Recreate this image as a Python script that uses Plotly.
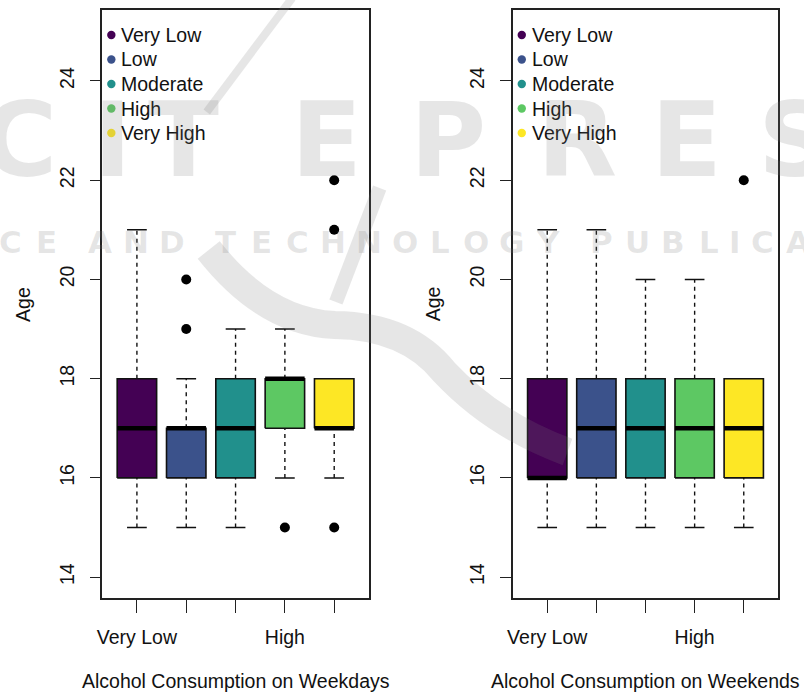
import plotly.graph_objects as go

# ---- data -------------------------------------------------------------
categories = ["Very Low", "Low", "Moderate", "High", "Very High"]
shown_tick_labels = ["Very Low", "", "", "High", ""]
colors = ["#440154", "#3B528B", "#21908C", "#5DC863", "#FDE725"]
y_ticks = [14, 16, 18, 20, 22, 24]

# Age summary per weekday-consumption level
wd_lower = [15, 15, 15, 16, 16]
wd_q1 = [16, 16, 16, 17, 17]
wd_median = [17, 17, 17, 18, 17]
wd_q3 = [18, 17, 18, 18, 18]
wd_upper = [21, 18, 19, 19, 18]
wd_outliers = [[], [19, 20], [], [15], [15, 21, 22]]

# Age summary per weekend-consumption level
we_lower = [15, 15, 15, 15, 15]
we_q1 = [16, 16, 16, 16, 16]
we_median = [16, 17, 17, 17, 17]
we_q3 = [18, 18, 18, 18, 18]
we_upper = [21, 21, 20, 20, 18]
we_outliers = [[], [], [], [], [22]]

panels = [
    dict(title="Alcohol Consumption on Weekdays", lower=wd_lower, q1=wd_q1,
         median=wd_median, q3=wd_q3, upper=wd_upper, outliers=wd_outliers),
    dict(title="Alcohol Consumption on Weekends", lower=we_lower, q1=we_q1,
         median=we_median, q3=we_q3, upper=we_upper, outliers=we_outliers),
]

# ---- geometry / style ---------------------------------------------------
W, H = 804, 695
FONT = "Liberation Sans, Arial, Helvetica, sans-serif"
FS = 19.5
INK = "#111111"
BOX_HALF = 0.4
CAP_HALF = 0.2
X_RANGE = [0.3, 5.7]
Y_RANGE = [13.58, 25.43]
plot_px = [(98, 366), (511, 778)]     # left/right edges of each plot area
top_px, bottom_px = 10, 598

fig = go.Figure()
positions = list(range(1, len(categories) + 1))

for p, panel in enumerate(panels):
    xa = "x" if p == 0 else "x2"
    ya = "y" if p == 0 else "y2"

    # dashed whiskers
    wx, wy = [], []
    for c, lo, q1, q3, hi in zip(positions, panel["lower"], panel["q1"],
                                 panel["q3"], panel["upper"]):
        wx += [c, c, None, c, c, None]
        wy += [lo, q1, None, q3, hi, None]
    fig.add_trace(go.Scatter(x=wx, y=wy, mode="lines", xaxis=xa, yaxis=ya,
                             line=dict(color=INK, width=1.4, dash="4px,4px"),
                             hoverinfo="skip", showlegend=False))

    # whisker staples
    sx, sy = [], []
    for c, lo, hi in zip(positions, panel["lower"], panel["upper"]):
        sx += [c - CAP_HALF, c + CAP_HALF, None, c - CAP_HALF, c + CAP_HALF, None]
        sy += [lo, lo, None, hi, hi, None]
    fig.add_trace(go.Scatter(x=sx, y=sy, mode="lines", xaxis=xa, yaxis=ya,
                             line=dict(color=INK, width=1.5),
                             hoverinfo="skip", showlegend=False))

    # boxes
    for c, q1, q3, col, name in zip(positions, panel["q1"], panel["q3"],
                                    colors, categories):
        fig.add_trace(go.Scatter(
            x=[c - BOX_HALF, c + BOX_HALF, c + BOX_HALF, c - BOX_HALF, c - BOX_HALF],
            y=[q1, q1, q3, q3, q1], mode="lines", fill="toself",
            fillcolor=col, line=dict(color=INK, width=1.6),
            xaxis=xa, yaxis=ya, name=name, showlegend=False))

    # medians
    mx, my = [], []
    for c, m in zip(positions, panel["median"]):
        mx += [c - BOX_HALF, c + BOX_HALF, None]
        my += [m, m, None]
    fig.add_trace(go.Scatter(x=mx, y=my, mode="lines", xaxis=xa, yaxis=ya,
                             line=dict(color="black", width=4.5),
                             hoverinfo="skip", showlegend=False))

    # outliers
    ox, oy = [], []
    for c, pts in zip(positions, panel["outliers"]):
        ox += [c] * len(pts)
        oy += pts
    fig.add_trace(go.Scatter(x=ox, y=oy, mode="markers", xaxis=xa, yaxis=ya,
                             marker=dict(color="black", size=10),
                             showlegend=False))

# ---- axes ----------------------------------------------------------------
axis_common = dict(showgrid=False, zeroline=False, showline=True, mirror=True,
                   linecolor="#222222", linewidth=1.6, ticks="outside",
                   tickcolor="#222222", tickwidth=1.4,
                   tickfont=dict(family=FONT, size=FS, color=INK))
layout_axes = {}
for p in range(2):
    sfx = "" if p == 0 else "2"
    x0, x1 = plot_px[p]
    layout_axes["xaxis" + sfx] = dict(
        axis_common, domain=[x0 / W, x1 / W], range=X_RANGE,
        tickvals=positions, ticktext=shown_tick_labels, ticklen=13,
        ticklabelstandoff=8, anchor="y" + sfx)
    layout_axes["yaxis" + sfx] = dict(
        axis_common, domain=[1 - bottom_px / H, 1 - top_px / H], range=Y_RANGE,
        tickvals=y_ticks, ticklen=11, tickangle=-90, ticklabelstandoff=8,
        anchor="x" + sfx)

annotations, shapes = [], []
for p, panel in enumerate(panels):
    x0, x1 = plot_px[p]
    sfx = "" if p == 0 else "2"
    annotations.append(dict(text=panel["title"], x=(x0 + x1) / 2 / W,
                            y=1 - 681 / H, xref="paper", yref="paper",
                            showarrow=False, xanchor="center", yanchor="middle",
                            font=dict(family=FONT, size=FS, color=INK)))
    annotations.append(dict(text="Age", x=(x0 - 80) / W, y=1 - 304 / H,
                            xref="paper", yref="paper", textangle=-90,
                            showarrow=False, xanchor="center", yanchor="middle",
                            font=dict(family=FONT, size=FS, color=INK)))
    # legend in the upper-left corner of each panel
    pw = x1 - x0
    ph = bottom_px - top_px
    for i, (name, col) in enumerate(zip(categories, colors)):
        row_y = 35 + i * 24.5
        yd = (bottom_px - row_y) / ph
        shapes.append(dict(type="circle", xref="x" + sfx + " domain",
                           yref="y" + sfx + " domain", xsizemode="pixel",
                           ysizemode="pixel", xanchor=9 / pw, yanchor=yd,
                           x0=-4.2, x1=4.2, y0=-4.2, y1=4.2,
                           fillcolor=col, line=dict(width=0)))
        annotations.append(dict(text=name, x=17 / pw, y=yd,
                                xref="x" + sfx + " domain",
                                yref="y" + sfx + " domain", showarrow=False,
                                xanchor="left", yanchor="middle",
                                font=dict(family=FONT, size=FS, color=INK)))

# ---- publisher watermark, faint and laid over the page -------------------
WM = "rgba(120,120,120,0.19)"
big_letters = ["C", "I", "T", "E", "P", "R", "E", "S"]
big_centers = [14, 108, 180, 324, 446, 576, 686, 795]
for ch, cx in zip(big_letters, big_centers):
    annotations.append(dict(text=ch, x=cx / W, y=1 - 140 / H, xref="paper",
                            yref="paper", showarrow=False, xanchor="center",
                            yanchor="middle",
                            font=dict(family="DejaVu Sans", size=104,
                                      color=WM, weight="bold")))
small_line = "SCIENCE AND TECHNOLOGY PUBLICATIONS"
cx = -174
for ch in small_line:
    adv = 18 if ch in " I" else 36
    if ch != " ":
        annotations.append(dict(text=ch, x=(cx + adv / 2) / W, y=1 - 242 / H,
                                xref="paper", yref="paper", showarrow=False,
                                xanchor="center", yanchor="middle",
                                font=dict(family="DejaVu Sans", size=31,
                                          color=WM, weight="bold")))
    cx += adv


def px_path(cmds):
    """Build an SVG path in paper units from (command, [x, y, ...]) in pixels."""
    out = []
    for cmd, pts in cmds:
        coords = []
        for i in range(0, len(pts), 2):
            coords.append(f"{pts[i] / W:.5f},{1 - pts[i + 1] / H:.5f}")
        out.append(cmd + " " + " ".join(coords))
    return " ".join(out)


swooshes = [
    (px_path([("M", [205, 250]), ("Q", [262, 322, 332, 325]),
              ("Q", [405, 326, 442, 372]), ("Q", [492, 425, 566, 452])]), 28),
    (px_path([("M", [289, -2]), ("L", [203, 112])]), 8),
    (px_path([("M", [333, 302]), ("L", [377, 188])]), 14),
]
for path, width in swooshes:
    shapes.append(dict(type="path", path=path, xref="paper", yref="paper",
                       line=dict(color=WM, width=width), layer="above"))

fig.update_layout(
    width=W, height=H, margin=dict(l=0, r=0, t=0, b=0),
    paper_bgcolor="white", plot_bgcolor="white",
    showlegend=False, annotations=annotations, shapes=shapes,
    **layout_axes)

fig.write_html("out.html")
